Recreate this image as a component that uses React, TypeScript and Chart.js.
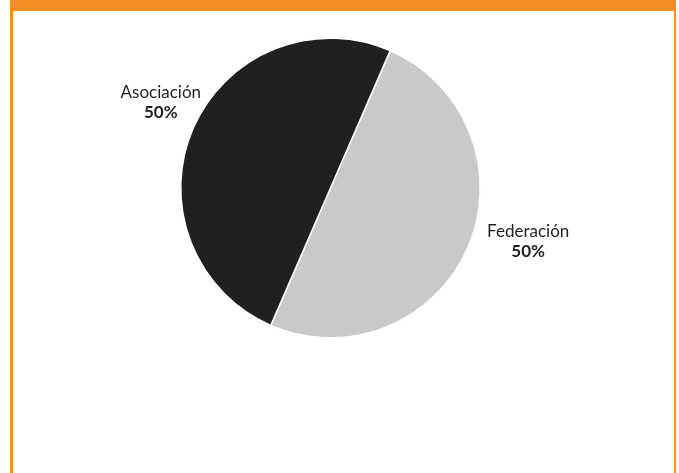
import React, { useEffect, useRef } from "react";
import { Chart, registerables } from "chart.js";

Chart.register(...registerables);

const categories = ["Federación", "Asociación"];
const values = [50, 50];
const percentLabels = ["50%", "50%"];
const colors = ["#c8c9cb", "#231f20"];

const labelPlugin = {
  id: "sliceLabels",
  afterDraw(chart: any) {
    const meta = chart.getDatasetMeta(0);
    const ctx = chart.ctx;
    // offsets relative to the pie centre, in units of the radius
    const rel = [
      [1.32, 0.325],
      [-1.133, -0.6],
    ];
    ctx.save();
    ctx.textAlign = "center";
    ctx.textBaseline = "alphabetic";
    ctx.fillStyle = "#231f20";
    meta.data.forEach((arc: any, i: number) => {
      const r = arc.outerRadius;
      const x = arc.x + rel[i][0] * r;
      const y = arc.y + rel[i][1] * r;
      ctx.font = "17px Lato";
      ctx.fillText(categories[i], x, y);
      ctx.font = "bold 17px Lato";
      ctx.fillText(percentLabels[i], x, y + 20);
    });
    ctx.restore();
  },
};

export default function App() {
  const ref = useRef<HTMLCanvasElement>(null);
  useEffect(() => {
    if (!ref.current) return;
    const chart = new Chart(ref.current, {
      type: "pie",
      data: {
        labels: categories,
        datasets: [
          {
            data: values,
            backgroundColor: colors,
            borderColor: "#ffffff",
            borderWidth: 1.5,
          },
        ],
      },
      options: {
        responsive: false,
        animation: false,
        rotation: 23.5,
        layout: { padding: { left: 180, right: 198, top: 37, bottom: 134 } },
        plugins: {
          legend: { display: false },
          tooltip: { enabled: false },
        },
      },
      plugins: [labelPlugin],
    });
    return () => chart.destroy();
  }, []);
  return (
    <div style={{ position: "fixed", left: 0, top: 0, width: 679, height: 473, background: "#fff" }}>
      <canvas ref={ref} width={679} height={473} style={{ position: "absolute", left: 0, top: 0 }} />
      <div style={{ position: "absolute", left: 10, top: 0, width: 666, height: 11, background: "#f39020" }} />
      <div style={{ position: "absolute", left: 10, top: 0, width: 2.5, height: 473, background: "#f39020" }} />
      <div style={{ position: "absolute", left: 673.5, top: 0, width: 2.5, height: 473, background: "#f39020" }} />
    </div>
  );
}
